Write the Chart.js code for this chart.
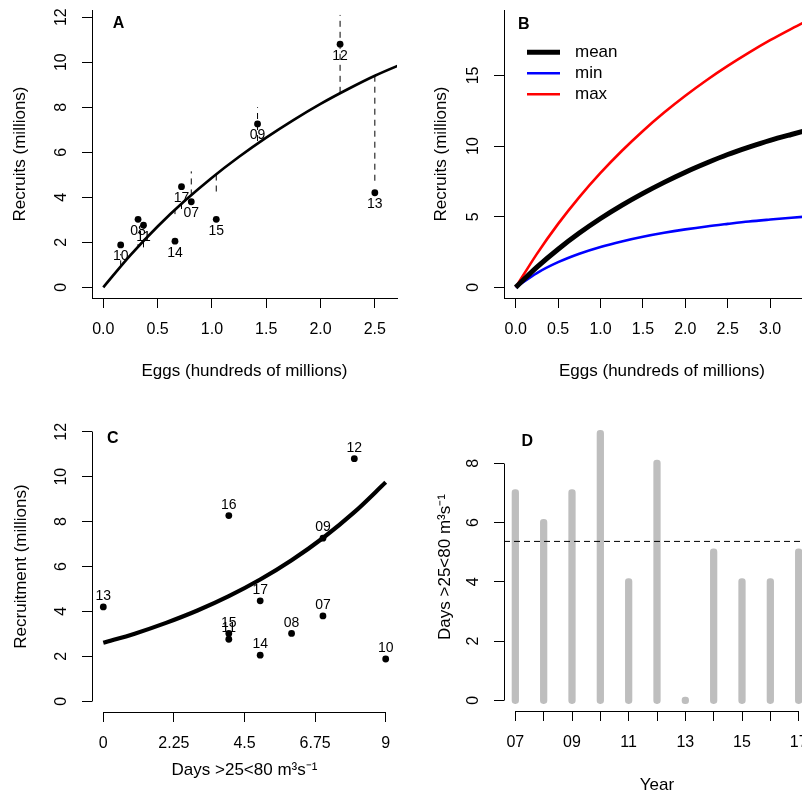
<!DOCTYPE html>
<html>
<head>
<meta charset="utf-8">
<title>Stock–recruitment and flow</title>
<script src="https://cdn.jsdelivr.net/npm/chart.js@4.4.1/dist/chart.umd.min.js"></script>
<style>
  html, body { margin: 0; padding: 0; background: #fff; overflow: hidden; }
  #fig { position: relative; width: 802px; height: 794px; overflow: hidden; background: #fff; }
  #fig canvas { position: absolute; }
</style>
</head>
<body>
<div id="fig">
  <canvas id="pA" width="401" height="397" style="left:0;top:0"></canvas>
  <canvas id="pB" width="430" height="397" style="left:401px;top:0"></canvas>
  <canvas id="pC" width="401" height="397" style="left:0;top:397px"></canvas>
  <canvas id="pD" width="430" height="397" style="left:401px;top:397px"></canvas>
</div>
<script>
// ---- data ------------------------------------------------------------
const yearLabels = ['07', '08', '09', '10', '11', '12', '13', '14', '15', '16', '17'];
const yearNum    = [7, 8, 9, 10, 11, 12, 13, 14, 15, 16, 17];
const recruits   = [3.80, 3.02, 7.26, 1.88, 2.76, 10.80, 4.20, 2.05, 3.02, 8.27, 4.47];
const eggs       = [0.81, 0.32, 1.42, 0.16, 0.37, 2.18, 2.50, 0.66, 1.04, null, 0.72];
const flowDays   = [7, 6, 7, 9, 4, 8, 0, 5, 4, 4, 5];

// stock-recruit fit at each year's egg count, and the fit with the flow term
const fitAtEggs    = [4.08, 1.79, 6.50, 0.93, 2.04, 8.64, 9.40, 3.46, 5.01, null, 3.70];
const fitWithFlow  = [5.15, 1.92, 8.00, 1.48, 1.73, 12.10, 4.55, 3.25, 4.25, null, 3.48];

// stock-recruit curves (recruits, millions) over eggs (hundreds of millions)
const eggGrid = [0, 0.25, 0.5, 0.75, 1.0, 1.25, 1.5, 1.75, 2.0, 2.25, 2.5, 2.75, 3.0, 3.25, 3.5];
const srMean  = [0, 1.43, 2.70, 3.84, 4.87, 5.80, 6.65, 7.43, 8.15, 8.80, 9.40, 9.92, 10.40, 10.82, 11.22];
const srMin   = [0, 1.01, 1.78, 2.38, 2.86, 3.25, 3.58, 3.86, 4.10, 4.31, 4.49, 4.66, 4.80, 4.93, 5.04];
const srMax   = [0, 2.37, 4.49, 6.39, 8.10, 9.65, 11.07, 12.37, 13.56, 14.66, 15.67, 16.61, 17.49, 18.30, 19.06];

// recruitment against days in the flow window
const dayGrid   = [0, 1, 2, 3, 4, 5, 6, 7, 8, 9];
const flowCurve = [2.60, 3.01, 3.49, 4.04, 4.68, 5.42, 6.28, 7.27, 8.42, 9.75];

// tick values
const ticksA_x = [0, 0.5, 1.0, 1.5, 2.0, 2.5];
const ticksA_y = [0, 2, 4, 6, 8, 10, 12];
const ticksB_x = [0, 0.5, 1.0, 1.5, 2.0, 2.5, 3.0];
const ticksB_y = [0, 5, 10, 15];
const ticksC_x = [0, 2.25, 4.5, 6.75, 9];
const ticksC_y = [0, 2, 4, 6, 8, 10, 12];
const ticksD_x = [7, 8, 9, 10, 11, 12, 13, 14, 15, 16, 17];
const ticksD_y = [0, 2, 4, 6, 8];

const meanFlowDays = flowDays.reduce((a, b) => a + b, 0) / flowDays.length;

// ---- look --------------------------------------------------------------
const FONT = "'Liberation Sans', Arial, Helvetica, sans-serif";
Chart.defaults.font.family = FONT;
Chart.defaults.color = '#000';
Chart.defaults.animation = false;
Chart.defaults.events = [];
Chart.defaults.plugins.legend.display = false;
Chart.defaults.plugins.tooltip.enabled = false;

const TICK_FONT = 16, TITLE_FONT = 17, POINT_FONT = 14;
const FLOW_TITLE = 'Days >25<80 m\u00B3s\u207B\u00B9';
const CAP = 0.11; // half the width of the round-capped day bars, in days

function axis(o) {
  const isY = o.isY;
  return {
    type: 'linear', min: o.min, max: o.max, offset: false,
    afterBuildTicks: s => { s.ticks = o.ticks.map(v => ({ value: v })); },
    afterFit: s => {
      if (isY) s.width = o.size; else s.height = o.size;
      s.paddingLeft = s.paddingRight = s.paddingTop = s.paddingBottom = 0;
    },
    grid: { display: true, drawOnChartArea: false, drawTicks: true, tickLength: 10,
            color: '#000', lineWidth: 1, offset: false },
    border: { display: o.boxed, color: '#000', width: 1 },
    ticks: {
      autoSkip: false, padding: o.tickPad, color: '#000', font: { size: TICK_FONT },
      minRotation: isY ? 90 : 0, maxRotation: isY ? 90 : 0,
      crossAlign: isY ? 'center' : 'near',
      callback: o.fmt
    },
    title: {
      display: true, text: o.title, color: '#000', font: { size: TITLE_FONT },
      padding: isY ? { top: o.titlePad, bottom: 0 } : { top: 0, bottom: o.titlePad }
    }
  };
}

const fmt1 = v => v.toFixed(1);
const fmtPlain = v => String(v);

// labels beside points
const pointTextPlugin = {
  id: 'pointText',
  afterDatasetsDraw(chart) {
    const ctx = chart.ctx;
    chart.data.datasets.forEach((ds, i) => {
      if (!ds.pointText) return;
      const meta = chart.getDatasetMeta(i);
      ctx.save();
      ctx.font = POINT_FONT + 'px ' + FONT;
      ctx.fillStyle = '#000';
      ctx.textAlign = 'center';
      ctx.textBaseline = 'middle';
      meta.data.forEach((el, j) => ctx.fillText(ds.pointText[j], el.x, el.y + ds.pointTextShift));
      ctx.restore();
    });
  }
};

// bold panel letter
const panelTagPlugin = {
  id: 'panelTag',
  afterDraw(chart, args, opts) {
    if (!opts || !opts.text) return;
    const ctx = chart.ctx;
    ctx.save();
    ctx.font = 'bold 16px ' + FONT;
    ctx.fillStyle = '#000';
    ctx.textAlign = 'center';
    ctx.textBaseline = 'middle';
    ctx.fillText(opts.text, opts.x, opts.y);
    ctx.restore();
  }
};

// axis lines that run only from the first to the last tick
const openAxesPlugin = {
  id: 'openAxes',
  afterDraw(chart) {
    const ctx = chart.ctx, ca = chart.chartArea;
    const al = p => Math.round(p - 0.5) + 0.5;
    const sx = chart.scales.x, sy = chart.scales.y;
    ctx.save();
    ctx.strokeStyle = '#000';
    ctx.lineWidth = 1;
    ctx.beginPath();
    ctx.moveTo(al(sx.getPixelForValue(sx.ticks[0].value)), al(ca.bottom));
    ctx.lineTo(al(sx.getPixelForValue(sx.ticks[sx.ticks.length - 1].value)), al(ca.bottom));
    ctx.moveTo(al(ca.left), al(sy.getPixelForValue(sy.ticks[0].value)));
    ctx.lineTo(al(ca.left), al(sy.getPixelForValue(sy.ticks[sy.ticks.length - 1].value)));
    ctx.stroke();
    ctx.restore();
  }
};

// line-sample legend inside panel B
const lineKeyPlugin = {
  id: 'lineKey',
  afterDraw(chart, args, opts) {
    if (!opts || !opts.items) return;
    const ctx = chart.ctx;
    ctx.save();
    ctx.font = '17px ' + FONT;
    ctx.textAlign = 'left';
    ctx.textBaseline = 'middle';
    opts.items.forEach((it, k) => {
      const y = opts.y + k * opts.step;
      ctx.strokeStyle = it.color;
      ctx.lineWidth = it.width;
      ctx.lineCap = 'butt';
      ctx.beginPath();
      ctx.moveTo(opts.x, y);
      ctx.lineTo(opts.x + opts.len, y);
      ctx.stroke();
      ctx.fillStyle = '#000';
      ctx.fillText(it.text, opts.textX, y);
    });
    ctx.restore();
  }
};

const xy = (xs, ys) => xs.map((x, i) => ({ x, y: ys[i] }));

// ---- A: recruits vs eggs ---------------------------------------------
const withEggs = yearLabels.map((_, i) => i).filter(i => eggs[i] !== null);
const segData = [];
withEggs.forEach(i => {
  segData.push({ x: eggs[i], y: fitAtEggs[i] });
  segData.push({ x: eggs[i], y: fitWithFlow[i] });
  segData.push({ x: eggs[i], y: null });
});

new Chart(document.getElementById('pA'), {
  type: 'line',
  data: {
    datasets: [
      { type: 'scatter', data: withEggs.map(i => ({ x: eggs[i], y: recruits[i] })),
        pointRadius: 3.4, pointBackgroundColor: '#000', pointBorderWidth: 0,
        pointText: withEggs.map(i => yearLabels[i]), pointTextShift: 11.5 },
      { data: segData, borderColor: '#000', borderWidth: 1, borderDash: [6, 5],
        pointRadius: 0, spanGaps: false },
      { data: xy(eggGrid, srMean), borderColor: '#000', borderWidth: 2.7, pointRadius: 0,
        cubicInterpolationMode: 'monotone' }
    ]
  },
  options: {
    responsive: false,
    layout: { padding: { left: 0, top: 10, right: 3, bottom: 0 } },
    scales: {
      x: axis({ min: -0.104, max: 2.704, ticks: ticksA_x, fmt: fmt1, size: 99, boxed: true,
                title: 'Eggs (hundreds of millions)', titlePad: 15.8, tickPad: 12 }),
      y: axis({ isY: true, min: -0.476, max: 12.32, ticks: ticksA_y, fmt: fmtPlain, size: 92, boxed: true,
                title: 'Recruits (millions)', titlePad: 9.8, tickPad: 11.6 })
    },
    plugins: { panelTag: { text: 'A', x: 118.5, y: 24 } }
  },
  plugins: [pointTextPlugin, panelTagPlugin]
});

// ---- B: mean / min / max stock-recruit curves ------------------------
new Chart(document.getElementById('pB'), {
  type: 'line',
  data: {
    datasets: [
      { data: xy(eggGrid, srMean), borderColor: '#000', borderWidth: 5, pointRadius: 0,
        cubicInterpolationMode: 'monotone' },
      { data: xy(eggGrid, srMin), borderColor: '#0000FF', borderWidth: 2.6, pointRadius: 0,
        cubicInterpolationMode: 'monotone' },
      { data: xy(eggGrid, srMax), borderColor: '#FF0000', borderWidth: 2.6, pointRadius: 0,
        cubicInterpolationMode: 'monotone' }
    ]
  },
  options: {
    responsive: false,
    layout: { padding: { left: 0, top: 10, right: 11, bottom: 0 } },
    scales: {
      x: axis({ min: -0.138, max: 3.588, ticks: ticksB_x, fmt: fmt1, size: 99, boxed: true,
                title: 'Eggs (hundreds of millions)', titlePad: 15.8, tickPad: 12 }),
      y: axis({ isY: true, min: -0.755, max: 19.63, ticks: ticksB_y, fmt: fmtPlain, size: 103, boxed: true,
                title: 'Recruits (millions)', titlePad: 30.3, tickPad: 11.6 })
    },
    plugins: {
      panelTag: { text: 'B', x: 122.8, y: 24.5 },
      lineKey: { x: 126, len: 33, textX: 174, y: 52.3, step: 21,
                 items: [ { text: 'mean', color: '#000', width: 5 },
                          { text: 'min', color: '#0000FF', width: 2.6 },
                          { text: 'max', color: '#FF0000', width: 2.6 } ] }
    }
  },
  plugins: [panelTagPlugin, lineKeyPlugin]
});

// ---- C: recruitment vs days in flow window ---------------------------
new Chart(document.getElementById('pC'), {
  type: 'line',
  data: {
    datasets: [
      { type: 'scatter', data: xy(flowDays, recruits), pointRadius: 3.4,
        pointBackgroundColor: '#000', pointBorderWidth: 0,
        pointText: yearLabels, pointTextShift: -10.7 },
      { data: xy(dayGrid, flowCurve), borderColor: '#000', borderWidth: 4.2, pointRadius: 0,
        cubicInterpolationMode: 'monotone' }
    ]
  },
  options: {
    responsive: false,
    layout: { padding: { left: 0, top: 24, right: 3, bottom: 0 } },
    scales: {
      x: axis({ min: -0.36, max: 9.36, ticks: ticksC_x, fmt: fmtPlain, size: 82, boxed: false,
                title: FLOW_TITLE, titlePad: 13.8, tickPad: 12 }),
      y: axis({ isY: true, min: -0.48, max: 12.48, ticks: ticksC_y, fmt: fmtPlain, size: 92, boxed: false,
                title: 'Recruitment (millions)', titlePad: 11, tickPad: 11.6 })
    },
    plugins: { panelTag: { text: 'C', x: 112.8, y: 41.3 } }
  },
  plugins: [pointTextPlugin, panelTagPlugin, openAxesPlugin]
});

// ---- D: days in flow window per year ---------------------------------
const D_XMIN = 6.6, D_XMAX = 17.4;
new Chart(document.getElementById('pD'), {
  type: 'bar',
  data: {
    datasets: [
      { type: 'line', data: [{ x: D_XMIN, y: meanFlowDays }, { x: D_XMAX, y: meanFlowDays }],
        borderColor: '#000', borderWidth: 1, borderDash: [6, 4], pointRadius: 0 },
      { type: 'bar', data: yearNum.map((yr, i) => ({ x: yr, y: [-CAP, flowDays[i] + CAP] })),
        backgroundColor: '#BEBEBE', borderWidth: 0, barThickness: 6.6,
        borderRadius: 3.3, borderSkipped: false }
    ]
  },
  options: {
    responsive: false,
    layout: { padding: { left: 0, top: 26, right: 21, bottom: 0 } },
    scales: {
      x: axis({ min: D_XMIN, max: D_XMAX, ticks: ticksD_x, size: 83, boxed: false,
                fmt: v => (v % 2 === 1 ? yearLabels[yearNum.indexOf(v)] : ''),
                title: 'Year', titlePad: -1.2, tickPad: 12 }),
      y: axis({ isY: true, min: -0.36, max: 9.36, ticks: ticksD_y, fmt: fmtPlain, size: 103, boxed: false,
                title: FLOW_TITLE, titlePad: 33.8, tickPad: 16 })
    },
    plugins: { panelTag: { text: 'D', x: 126.2, y: 44.7 } }
  },
  plugins: [panelTagPlugin, openAxesPlugin]
});
</script>
</body>
</html>
